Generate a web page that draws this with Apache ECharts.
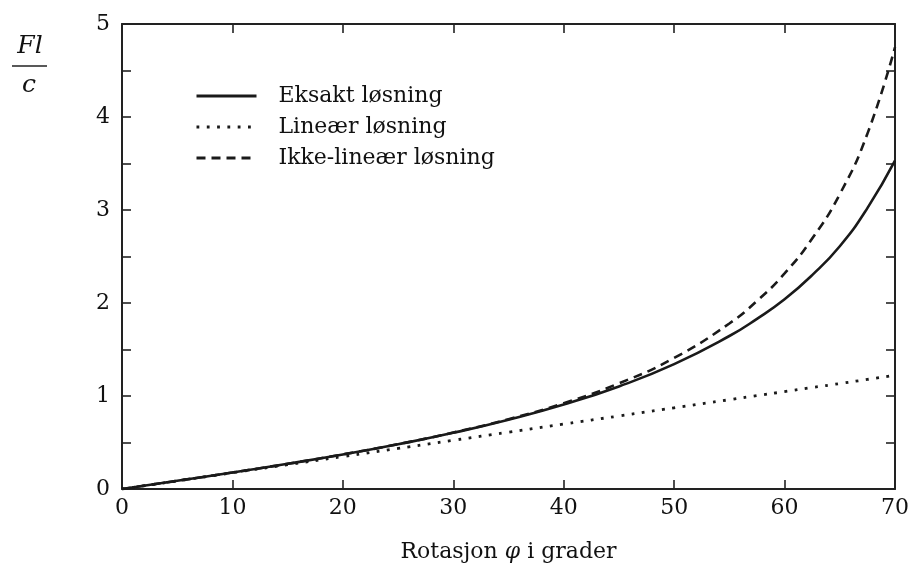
<!DOCTYPE html>
<html>
<head>
<meta charset="utf-8">
<script src="https://cdn.jsdelivr.net/npm/echarts@6/dist/echarts.min.js"></script>
<style>
html,body{margin:0;padding:0;background:#fff;}
#chartmain{width:912px;height:568px;}
</style>
</head>
<body>
<div id="chartmain"></div>
<script>
// rotasjon i grader
var vinkel = [0, 5, 10, 15, 20, 25, 30, 35, 40, 45, 50, 55, 57.5, 60, 62.5, 65, 67.5, 70];
var eksakt = [0, 0.088, 0.177, 0.271, 0.371, 0.481, 0.604, 0.745, 0.908, 1.103, 1.343, 1.645, 1.830, 2.040, 2.300, 2.610, 3.020, 3.530];
var lineaer = [0, 0.087, 0.175, 0.262, 0.349, 0.436, 0.524, 0.611, 0.698, 0.785, 0.873, 0.960, 1.004, 1.047, 1.091, 1.134, 1.178, 1.222];
var ikkeLineaer = [0, 0.088, 0.177, 0.271, 0.372, 0.482, 0.607, 0.751, 0.923, 1.136, 1.409, 1.780, 2.022, 2.318, 2.693, 3.170, 3.820, 4.750];
var yTicks = [0, 1, 2, 3, 4, 5];

var font = '"DejaVu Serif", "Liberation Serif", serif';

function pairs(xs, ys) {
	var out = [];
	for (var i = 0; i < xs.length; i++) out.push([xs[i], ys[i]]);
	return out;
}

function yLabel(value) {
	for (var i = 0; i < yTicks.length; i++) {
		if (Math.abs(yTicks[i] - value) < 1e-6) return '' + yTicks[i];
	}
	return '';
}

var myChart = echarts.init(document.getElementById('chartmain'));
var axisStyle = {show: true, onZero: false, lineStyle: {color: '#222', width: 2}};
var tickStyle = {show: true, inside: true, length: 9, lineStyle: {color: '#222', width: 1.6}};

var option = {
	backgroundColor: '#fff',
	animation: false,
	textStyle: {fontFamily: font},
	grid: {left: 122, right: 14, top: 24, bottom: 79, containLabel: false},
	legend: {
		orient: 'vertical',
		left: 190,
		top: 78,
		itemWidth: 60,
		itemHeight: 14,
		itemGap: 5,
		itemStyle: {color: 'rgba(0,0,0,0)', borderWidth: 0, opacity: 0},
		lineStyle: {width: 3},
		textStyle: {fontFamily: font, fontSize: 22, lineHeight: 26, color: '#111', padding: [0, 0, 0, 17]},
		data: ['Eksakt løsning', 'Lineær løsning', 'Ikke-lineær løsning']
	},
	xAxis: [{
		type: 'value', min: 0, max: 70, interval: 10,
		axisLine: axisStyle, axisTick: tickStyle, splitLine: {show: false},
		axisLabel: {fontFamily: font, fontSize: 22, color: '#111', margin: 8},
		name: 'Rotasjon {p|φ} i grader',
		nameLocation: 'middle',
		nameGap: 52,
		nameTextStyle: {
			fontFamily: font, fontSize: 22, color: '#111',
			rich: {p: {fontFamily: font, fontSize: 22, fontStyle: 'italic', color: '#111'}}
		}
	}, {
		type: 'value', min: 0, max: 70, interval: 10, position: 'top',
		axisLine: axisStyle, axisTick: tickStyle, splitLine: {show: false},
		axisLabel: {show: false}
	}],
	yAxis: [{
		type: 'value', min: 0, max: 5, interval: 0.5,
		axisLine: axisStyle, axisTick: tickStyle, splitLine: {show: false},
		axisLabel: {fontFamily: font, fontSize: 22, color: '#111', margin: 12, formatter: yLabel}
	}, {
		type: 'value', min: 0, max: 5, interval: 0.5, position: 'right',
		axisLine: axisStyle, axisTick: tickStyle, splitLine: {show: false},
		axisLabel: {show: false}
	}],
	graphic: [
		{type: 'text', x: 30, y: 46, style: {text: 'Fl', font: 'italic 25px ' + font, fill: '#111', align: 'center', verticalAlign: 'middle'}},
		{type: 'line', shape: {x1: 12, y1: 66, x2: 47, y2: 66}, style: {stroke: '#222', lineWidth: 1.6}},
		{type: 'text', x: 29, y: 85, style: {text: 'c', font: 'italic 25px ' + font, fill: '#111', align: 'center', verticalAlign: 'middle'}}
	],
	series: [{
		name: 'Eksakt løsning',
		type: 'line', smooth: true, symbol: 'none',
		lineStyle: {color: '#1a1a1a', width: 2.6, type: 'solid'},
		itemStyle: {color: '#1a1a1a'},
		data: pairs(vinkel, eksakt)
	}, {
		name: 'Lineær løsning',
		type: 'line', smooth: true, symbol: 'none',
		lineStyle: {color: '#1a1a1a', width: 2.8, type: [2.8, 7.5], cap: 'butt'},
		itemStyle: {color: '#1a1a1a'},
		data: pairs(vinkel, lineaer)
	}, {
		name: 'Ikke-lineær løsning',
		type: 'line', smooth: true, symbol: 'none',
		lineStyle: {color: '#1a1a1a', width: 2.6, type: [9, 6]},
		itemStyle: {color: '#1a1a1a'},
		data: pairs(vinkel, ikkeLineaer)
	}]
};
myChart.setOption(option);
</script>
</body>
</html>
